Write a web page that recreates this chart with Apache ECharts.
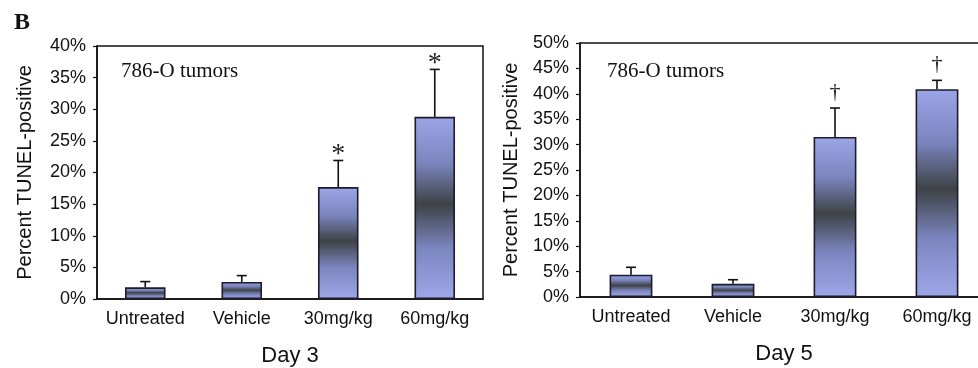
<!DOCTYPE html>
<html>
<head>
<meta charset="utf-8">
<script src="https://cdn.jsdelivr.net/npm/echarts@6/dist/echarts.min.js"></script>
<style>
  html, body { margin: 0; padding: 0; background: #fff; }
  #chart { width: 978px; height: 368px; }
</style>
</head>
<body>
<div id="chart"></div>
<script>
var categories = ["Untreated", "Vehicle", "30mg/kg", "60mg/kg"];

// Day 3 (percent TUNEL-positive)
var day3Mean = [1.85, 2.7, 17.7, 28.8];
var day3Err = [2.75, 3.7, 21.9, 36.3];
var day3Marks = ["", "", "*", "*"];

// Day 5
var day5Mean = [4.4, 2.6, 31.5, 40.9];
var day5Err = [5.85, 3.4, 37.2, 42.65];
var day5Marks = ["", "", "\u2020", "\u2020"];

var chart = echarts.init(document.getElementById("chart"));

// bar fill: light blue at both ends, dark band in the middle
var barFill = new echarts.graphic.LinearGradient(0, 0, 0, 1, [
  { offset: 0, color: "#9ca5e6" },
  { offset: 0.25, color: "#7b86c0" },
  { offset: 0.48, color: "#3e4246" },
  { offset: 0.72, color: "#7b86c0" },
  { offset: 1, color: "#9ea7e8" },
]);

function errorItem(marks, markSize, markGap) {
  return function (params, api) {
    var i = api.value(0);
    var p0 = api.coord([i, api.value(1)]);
    var p1 = api.coord([i, api.value(2)]);
    var children = [
      {
        type: "line",
        shape: { x1: p0[0], y1: p0[1], x2: p1[0], y2: p1[1] },
        style: { stroke: "#111", lineWidth: 1.6 },
      },
      {
        type: "line",
        shape: { x1: p1[0] - 5, y1: p1[1], x2: p1[0] + 5, y2: p1[1] },
        style: { stroke: "#111", lineWidth: 1.6 },
      },
    ];
    if (marks[i]) {
      children.push({
        type: "text",
        x: p1[0],
        y: p1[1] - markGap,
        style: {
          text: marks[i],
          fill: "#222",
          font: markSize + "px 'Liberation Serif', serif",
          align: "center",
          verticalAlign: "middle",
        },
      });
    }
    return { type: "group", children: children };
  };
}

function errData(mean, err) {
  return mean.map(function (m, i) {
    return [i, m, err[i]];
  });
}

var axisFont = "Liberation Sans";

function xAxisFor(idx, name) {
  return {
    type: "category",
    gridIndex: idx,
    data: categories,
    name: name,
    nameLocation: "middle",
    nameGap: 46,
    nameTextStyle: { fontFamily: axisFont, fontSize: 22, color: "#111" },
    axisLine: { lineStyle: { color: "#111", width: 1.5 } },
    axisTick: { length: 5, lineStyle: { color: "#111", width: 1.2 } },
    axisLabel: {
      interval: 0,
      fontFamily: axisFont,
      fontSize: 18,
      color: "#111",
      margin: 11,
    },
  };
}

function yAxisFor(idx, max, nameGap) {
  return {
    type: "value",
    gridIndex: idx,
    min: 0,
    max: max,
    interval: 5,
    name: "Percent TUNEL-positive",
    nameLocation: "middle",
    nameGap: nameGap,
    nameTextStyle: { fontFamily: axisFont, fontSize: 20, color: "#111" },
    axisLine: { show: true, lineStyle: { color: "#111", width: 1.5 } },
    axisTick: { show: true, length: 4, lineStyle: { color: "#111", width: 1.2 } },
    axisLabel: {
      fontFamily: axisFont,
      fontSize: 18,
      color: "#111",
      margin: 11,
      formatter: "{value}%",
    },
    splitLine: { show: false },
  };
}

var barStyle = {
  color: barFill,
  borderColor: "#1c1c2a",
  borderWidth: 1.6,
};

chart.setOption({
  animation: false,
  title: {
    text: "B",
    left: 9,
    top: 6,
    textStyle: {
      fontFamily: "Liberation Serif",
      fontWeight: "bold",
      fontSize: 24,
      color: "#111",
    },
  },
  graphic: [
    {
      type: "text",
      left: 121,
      top: 61,
      style: {
        text: "786-O tumors",
        font: "21px 'Liberation Serif', serif",
        fill: "#111",
      },
    },
    {
      type: "text",
      left: 607,
      top: 61,
      style: {
        text: "786-O tumors",
        font: "21px 'Liberation Serif', serif",
        fill: "#111",
      },
    },
  ],
  grid: [
    {
      left: 97,
      top: 46,
      width: 386,
      height: 253,
      show: true,
      borderColor: "#111",
      borderWidth: 1.5,
      outerBoundsMode: "none",
    },
    {
      left: 580,
      top: 43,
      width: 408,
      height: 254,
      show: true,
      borderColor: "#111",
      borderWidth: 1.5,
      outerBoundsMode: "none",
    },
  ],
  xAxis: [xAxisFor(0, "Day 3"), xAxisFor(1, "Day 5")],
  yAxis: [yAxisFor(0, 40, 62), yAxisFor(1, 50, 59)],
  series: [
    {
      type: "bar",
      xAxisIndex: 0,
      yAxisIndex: 0,
      data: day3Mean,
      barWidth: "42%",
      itemStyle: barStyle,
    },
    {
      type: "custom",
      xAxisIndex: 0,
      yAxisIndex: 0,
      data: errData(day3Mean, day3Err),
      renderItem: errorItem(day3Marks, 28, 6),
      z: 3,
    },
    {
      type: "bar",
      xAxisIndex: 1,
      yAxisIndex: 1,
      data: day5Mean,
      barWidth: "42%",
      itemStyle: barStyle,
    },
    {
      type: "custom",
      xAxisIndex: 1,
      yAxisIndex: 1,
      data: errData(day5Mean, day5Err),
      renderItem: errorItem(day5Marks, 22, 16),
      z: 3,
    },
  ],
});
</script>
</body>
</html>
